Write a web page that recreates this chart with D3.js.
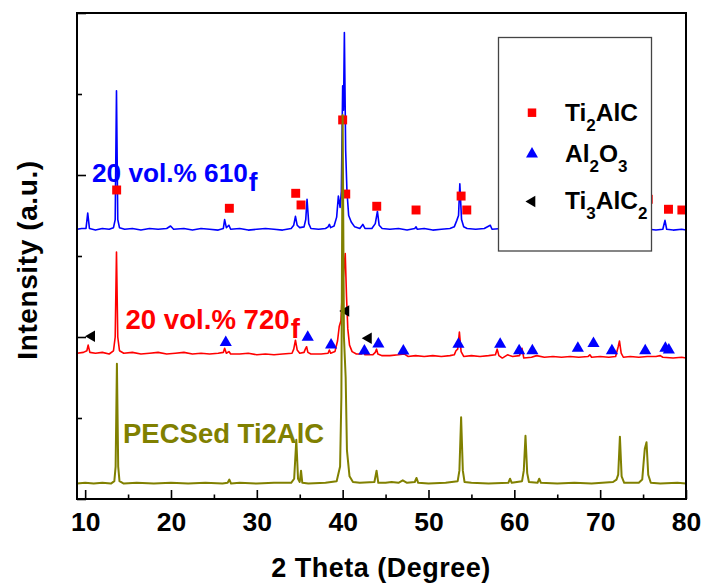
<!DOCTYPE html>
<html><head><meta charset="utf-8">
<script src="https://cdn.jsdelivr.net/npm/d3@7"></script>
<style>
html,body{margin:0;padding:0;background:#fff;}
svg{display:block;font-family:"Liberation Sans",Arial,sans-serif;}
</style></head>
<body><svg id="c" width="702" height="583"></svg>
<script>
// ---------- data ----------
const blueTrace = [[9.05,333],[9.6,334],[10.1,334],[10.3,353],[10.5,334],[11.2,332],[12.0,334],[12.8,333],[13.3,335],[13.5,345],[13.65,504],[13.8,345],[14.0,335],[14.6,333],[15.5,334],[16.5,332],[17.5,334],[18.5,333],[19.5,334],[19.95,337],[20.3,333],[21.5,334],[22.5,332],[23.5,334],[24.5,333],[25.5,332],[26.1,334],[26.25,345],[26.45,335],[26.75,338],[26.95,333],[28,334],[29,332],[30,333],[31,334],[32,333],[33,332],[34.0,334],[34.3,338],[34.5,349],[34.7,338],[35.0,335],[35.5,336],[35.7,345],[35.85,370],[36.05,340],[36.3,334],[37.2,333],[38.0,334],[38.3,336],[38.45,339],[38.6,335],[39.0,337],[39.3,348],[39.5,374],[39.7,360],[39.85,380],[40.0,510],[40.1,480],[40.2,576],[40.35,430],[40.5,380],[40.7,350],[41.0,342],[41.4,336],[42.0,334],[42.35,339],[42.6,334],[43.4,334],[43.8,340],[44.05,355],[44.25,338],[44.6,334],[45.5,333],[46.5,334],[47.5,332],[48.4,334],[48.55,336],[48.7,333],[49.5,334],[50.5,332],[51.5,333],[52.5,334],[53.0,336],[53.3,344],[53.5,350],[53.65,389],[53.85,345],[54.1,336],[54.5,334],[55.5,333],[56.5,334],[57.2,338],[57.4,333],[58.5,334],[61.0,333],[61.2,345],[61.4,333],[72.0,333],[72.2,345],[72.4,333],[75.3,333],[75.5,342],[75.7,333],[76.5,332],[77.3,333],[77.55,344],[77.75,333],[78.5,332],[79.5,333],[80,332]];

const redTrace = [[9.05,180],[9.8,181],[10.2,183],[10.35,190],[10.55,181],[11.2,180],[12.0,181],[12.8,179],[13.3,183],[13.5,200],[13.65,305],[13.8,200],[14.0,183],[14.5,180],[15.5,181],[16.5,179],[17.5,180],[18.5,181],[19.5,179],[20.5,180],[21.5,181],[22.5,179],[23.5,180],[24.5,179],[25.5,180],[26.1,181],[26.25,186],[26.45,180],[26.75,182],[26.95,179],[28,179],[29,180],[30,178],[31,179],[32,178],[33,179],[34.1,180],[34.3,185],[34.5,196],[34.7,184],[35.0,180],[35.5,181],[35.65,185],[35.8,188],[35.95,181],[36.3,179],[37.5,179],[38.3,180],[38.45,184],[38.6,180],[39.1,182],[39.4,195],[39.6,213],[39.8,220],[40.0,265],[40.3,303],[40.45,250],[40.6,210],[40.8,190],[41.1,182],[41.6,179],[42.2,179],[42.4,183],[42.6,178],[43.5,178],[43.8,181],[43.95,185],[44.1,179],[44.6,177],[45.5,177],[46.5,178],[47.2,179],[47.6,176],[48.5,177],[49.5,176],[50.5,177],[51.5,176],[52.5,177],[53.0,178],[53.2,183],[53.4,185],[53.6,206],[53.8,182],[54.1,176],[55.0,177],[56.0,176],[57.0,177],[57.8,178],[58.0,185],[58.2,177],[58.6,174],[59.2,178],[59.8,176],[60.6,177],[60.9,186],[61.1,174],[62.0,175],[62.6,177],[63.5,175],[64.5,176],[65.5,175],[66.5,176],[67.5,175],[68.6,176],[68.8,178],[69.0,175],[70.0,176],[71.0,175],[71.8,176],[72.1,188],[72.25,195],[72.45,180],[72.7,175],[73.5,176],[74.5,175],[75.5,176],[76.5,176],[77.0,177],[77.3,175],[78.5,174],[79.5,175],[80,174]];

const oliveTrace = [[9.05,19],[10,20],[11,19],[12,20],[13,19],[13.4,22],[13.55,40],[13.7,167],[13.85,40],[14.0,22],[14.5,19],[16,20],[18,19],[20,20],[22,19],[24,20],[26,19],[26.6,20],[26.8,24],[27.0,19],[28,20],[30,19],[32,20],[34.0,20],[34.35,25],[34.6,73],[34.8,25],[35.0,21],[35.15,35],[35.3,20],[36,19],[38,20],[39.3,22],[39.7,40],[39.85,126],[40.0,474],[40.15,200],[40.35,150],[40.5,60],[40.8,28],[41.2,21],[42,20],[43.7,21],[43.95,35],[44.15,20],[45,20],[45.7,21],[46.5,20],[47.0,23],[47.5,20],[48.4,21],[48.6,26],[48.8,20],[50,19],[52,20],[53.4,22],[53.6,35],[53.8,101],[54.0,35],[54.2,21],[55,20],[57,19],[59.3,20],[59.5,25],[59.7,20],[60.9,22],[61.1,35],[61.3,78],[61.5,32],[61.7,21],[62.7,20],[62.9,25],[63.1,20],[65,19],[67,20],[69,19],[71.5,21],[71.9,24],[72.1,30],[72.3,77],[72.5,28],[72.8,20],[74.5,20],[74.9,24],[75.1,50],[75.2,62],[75.4,70],[75.6,30],[75.9,20],[77,19],[79,20],[80,19]];

const ti2alcX = [13.67, 26.8, 34.53, 35.15, 40.0, 40.36, 43.97, 48.55, 53.8, 54.46, 75.6, 77.96, 79.52];
const ti2alcY = [381.5, 358.9, 377.4, 363, 468, 376.5, 361.4, 356.8, 374, 356.8, 370, 357.7, 356.8];
const al2o3X = [26.38, 35.93, 38.65, 42.53, 44.16, 47.07, 53.49, 58.35, 60.56, 62.1, 67.4, 69.22, 71.37, 75.25, 77.6, 78.0];
const al2o3Y = [193.2, 199.6, 190, 182.7, 191.4, 182.7, 191, 191, 183, 183, 186, 192, 183, 183, 186, 184];
const ti3alc2X = [10.76, 40.38, 43.0];
const ti3alc2Y = [201, 232, 198.4];

const xMajor = [10, 20, 30, 40, 50, 60, 70, 80];
const xMinor = [15, 25, 35, 45, 55, 65, 75];
const yMajor = [0, 200, 400, 600];
const yMinor = [100, 300, 500];

// ---------- drawing ----------
const svg = d3.select("#c");
const F = '"Liberation Sans",Arial,sans-serif';
const x = d3.scaleLinear().domain([9.05, 80]).range([77, 686]);
const y = d3.scaleLinear().domain([0, 600]).range([499, 13]);

// axes
const gx = svg.append("g").attr("transform", "translate(0,499)")
  .call(d3.axisBottom(x).tickValues(xMajor).tickSizeInner(-9).tickSizeOuter(0).tickPadding(12.8).tickFormat(d3.format("d")));
const gxm = svg.append("g").attr("transform", "translate(0,499)")
  .call(d3.axisBottom(x).tickValues(xMinor).tickSizeInner(-4.5).tickSizeOuter(0).tickFormat(""));
const gy = svg.append("g").attr("transform", "translate(77,0)")
  .call(d3.axisLeft(y).tickValues(yMajor).tickSizeInner(-9).tickSizeOuter(0).tickFormat(""));
const gym = svg.append("g").attr("transform", "translate(77,0)")
  .call(d3.axisLeft(y).tickValues(yMinor).tickSizeInner(-5).tickSizeOuter(0).tickFormat(""));
[gx, gxm, gy, gym].forEach(g => {
  g.select(".domain").remove();
  g.selectAll(".tick line").attr("stroke", "#000").attr("stroke-width", 1.6);
});
gx.selectAll(".tick text").attr("font-family", F).attr("font-weight", "bold")
  .attr("font-size", 26.5).attr("fill", "#000");

const line = d3.line().x(d => x(d[0])).y(d => y(d[1]));

svg.append("path").datum(blueTrace).attr("d", line)
  .attr("fill", "none").attr("stroke", "#0000ff").attr("stroke-width", 1.6).attr("stroke-linejoin", "round");
svg.append("path").datum(redTrace).attr("d", line)
  .attr("fill", "none").attr("stroke", "#ff0000").attr("stroke-width", 1.6).attr("stroke-linejoin", "round");

// markers
const sq = d3.symbol().type(d3.symbolSquare).size(80);
const tri = d3.symbol().type(d3.symbolTriangle).size(64);
const triL = d3.symbol().type(d3.symbolTriangle).size(58);
svg.append("g").selectAll("path").data(ti2alcX.map((v, i) => [v, ti2alcY[i]])).join("path")
  .attr("d", sq).attr("fill", "#ff0000")
  .attr("transform", d => `translate(${x(d[0])},${y(d[1])})`);
svg.append("g").selectAll("path").data(al2o3X.map((v, i) => [v, al2o3Y[i]])).join("path")
  .attr("d", tri).attr("fill", "#0000ff")
  .attr("transform", d => `translate(${x(d[0])},${y(d[1])})`);
svg.append("g").selectAll("path").data(ti3alc2X.map((v, i) => [v, ti3alc2Y[i]])).join("path")
  .attr("d", triL).attr("fill", "#000")
  .attr("transform", d => `translate(${x(d[0])},${y(d[1])}) rotate(-90)`);

svg.append("path").datum(oliveTrace).attr("d", line)
  .attr("fill", "none").attr("stroke", "#808000").attr("stroke-width", 2).attr("stroke-linejoin", "round");

// frame
svg.append("rect").attr("x", 77).attr("y", 13).attr("width", 609).attr("height", 486)
  .attr("fill", "none").attr("stroke", "#000").attr("stroke-width", 2);

// legend
svg.append("rect").attr("x", 498.5).attr("y", 37.5).attr("width", 153).attr("height", 213.5)
  .attr("fill", "#fff").attr("stroke", "#444").attr("stroke-width", 1.3);
const legendNames = [["Ti", "2", "AlC", ""], ["Al", "2", "O", "3"], ["Ti", "3", "AlC", "2"]];
const legendBase = [120.5, 161.7, 208.5];
const legendSym = [
  {d: d3.symbol().type(d3.symbolSquare).size(72)(), fill: "#ff0000", rot: 0, cy: 112.7},
  {d: d3.symbol().type(d3.symbolTriangle).size(62)(), fill: "#0000ff", rot: 0, cy: 154},
  {d: d3.symbol().type(d3.symbolTriangle).size(56)(), fill: "#000", rot: -90, cy: 201.5}
];
legendSym.forEach((s, i) => {
  svg.append("path").attr("d", s.d).attr("fill", s.fill)
    .attr("transform", `translate(532,${s.cy}) rotate(${s.rot})`);
  const t = svg.append("text").attr("x", 565).attr("y", legendBase[i])
    .attr("font-family", F).attr("font-weight", "bold").attr("font-size", 24.5).attr("fill", "#000");
  const p = legendNames[i];
  t.append("tspan").text(p[0]);
  t.append("tspan").text(p[1]).attr("font-size", 17).attr("dy", 10);
  t.append("tspan").text(p[2]).attr("dy", -10);
  if (p[3]) t.append("tspan").text(p[3]).attr("font-size", 17).attr("dy", 10);
});

// curve labels
function label(txt, sub, xx, yy, size, color) {
  const t = svg.append("text").attr("x", xx).attr("y", yy).attr("font-family", F)
    .attr("font-weight", "bold").attr("font-size", size).attr("fill", color);
  t.append("tspan").text(txt);
  if (sub) t.append("tspan").text(sub).attr("dy", 9).attr("dx", 1);
}
label("20 vol.% 610", "f", 92, 181.7, 26.2, "#0000ff");
label("20 vol.% 720", "f", 125.5, 329.3, 27.6, "#ff0000");
label("PECSed Ti2AlC", "", 123, 443.3, 27.5, "#808000");

// axis titles
svg.append("text").attr("x", 381).attr("y", 577).attr("text-anchor", "middle")
  .attr("font-family", F).attr("font-weight", "bold").attr("font-size", 27).attr("fill", "#000")
  .style("letter-spacing", "0.5px")
  .text("2 Theta (Degree)");
svg.append("text").attr("transform", "translate(37,260) rotate(-90)").attr("text-anchor", "middle")
  .attr("font-family", F).attr("font-weight", "bold").attr("font-size", 28).attr("fill", "#000")
  .style("letter-spacing", "0.6px")
  .text("Intensity (a.u.)");
</script></body></html>
